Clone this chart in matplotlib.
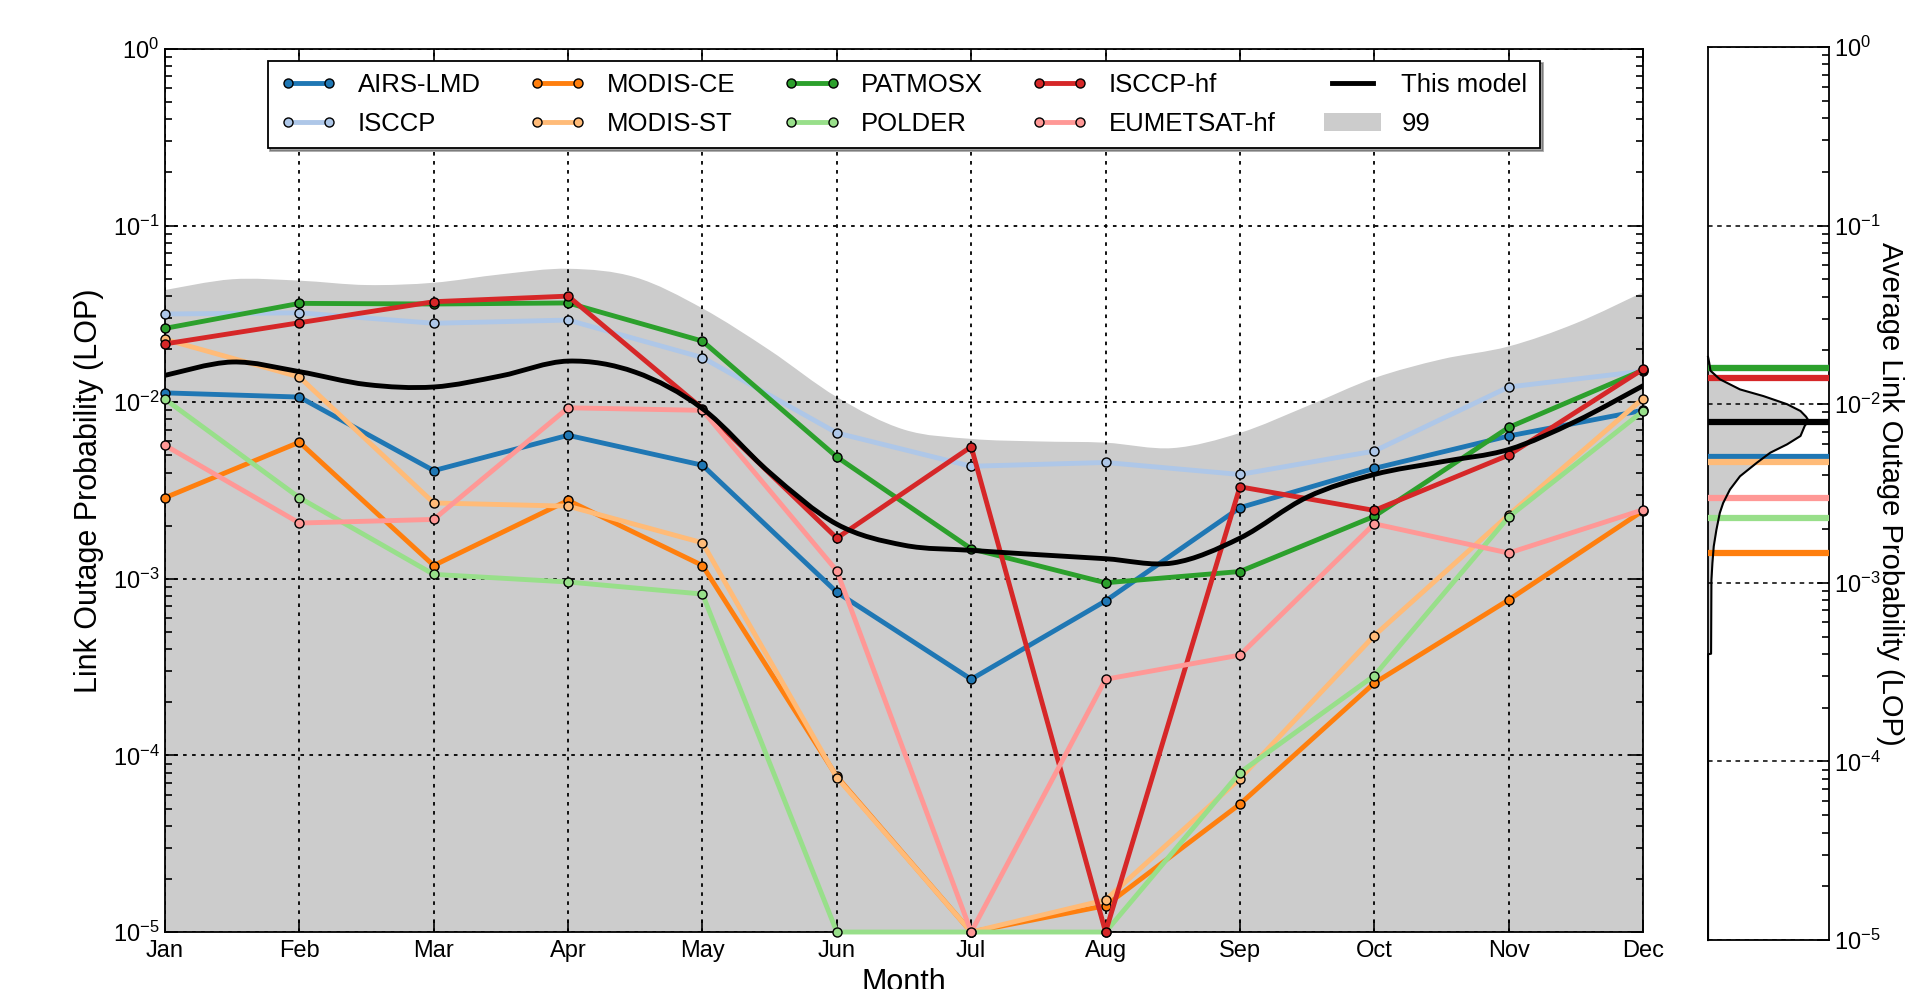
import numpy as np
import matplotlib
matplotlib.use("Agg")
import matplotlib.pyplot as plt
from matplotlib.patches import Patch, PathPatch
from matplotlib.path import Path
from matplotlib.ticker import LogLocator, NullFormatter, LogFormatterMathtext

plt.rcParams["font.family"] = ["Liberation Sans", "DejaVu Sans"]
plt.rcParams["mathtext.fontset"] = "cm"

# ---------------------------------------------------------------- data
months = ["Jan", "Feb", "Mar", "Apr", "May", "Jun",
          "Jul", "Aug", "Sep", "Oct", "Nov", "Dec"]

airs_lmd = [0.0113, 0.0107, 0.0041, 0.0065, 0.0044, 0.00084,
            0.00027, 0.00075, 0.00253, 0.00422, 0.00644, 0.0090]
isccp = [0.0316, 0.0321, 0.0280, 0.0292, 0.0179, 0.0067,
         0.00434, 0.00456, 0.0039, 0.00529, 0.0122, 0.0150]
modis_ce = [0.00288, 0.00594, 0.00119, 0.00278, 0.00119, 7.6e-5,
            1e-5, 1.41e-5, 5.3e-5, 2.57e-4, 7.6e-4, 0.00243]
modis_st = [0.0227, 0.0139, 0.00269, 0.00258, 0.0016, 7.5e-5,
            1e-5, 1.52e-5, 7.4e-5, 4.77e-4, 0.0023, 0.0105]
patmosx = [0.0262, 0.0363, 0.0360, 0.0365, 0.0222, 0.0049,
           0.00148, 0.00095, 0.0011, 0.00226, 0.0072, 0.0152]
polder = [0.0104, 0.00288, 0.00106, 0.00096, 0.00082, 1e-5,
          1e-5, 1e-5, 8.0e-5, 2.83e-4, 0.00224, 0.0089]
isccp_hf = [0.0214, 0.0282, 0.0371, 0.0399, 0.0092, 0.0017,
            0.0056, 1e-5, 0.00332, 0.00244, 0.00502, 0.0154]
eumetsat_hf = [0.0057, 0.00207, 0.00217, 0.0093, 0.0090, 0.00111,
               1e-5, 0.00027, 0.00037, 0.00205, 0.0014, 0.00246]

# model curve and 99th-percentile envelope, sampled every half month
half_month = [i / 2 for i in range(23)]
model_lop = [0.0142, 0.0169, 0.0149, 0.0126, 0.0122, 0.0141, 0.0171, 0.0148,
             0.0092, 0.0040, 0.00204, 0.00155, 0.00145, 0.00137, 0.0013,
             0.00123, 0.0017, 0.0029, 0.0039, 0.0046, 0.0054, 0.0078, 0.0124]
band_99 = [0.0432, 0.0497, 0.0488, 0.0461, 0.0475, 0.0530, 0.0570, 0.0510,
           0.0340, 0.0197, 0.0107, 0.0070, 0.0062, 0.0060, 0.0059, 0.0055,
           0.0067, 0.0095, 0.0137, 0.0175, 0.0207, 0.0280, 0.0420]

model_avg = 0.0079

# distribution of the model's average LOP (relative density vs LOP)
dist_lop = [1.84e-2, 1.70e-2, 1.54e-2, 1.38e-2, 1.21e-2, 1.11e-2, 1.0e-2,
            9.16e-3, 8.51e-3, 8.05e-3, 7.59e-3, 6.64e-3, 5.96e-3, 5.35e-3,
            4.70e-3, 3.95e-3, 3.33e-3, 2.80e-3, 2.46e-3, 1.98e-3, 1.60e-3,
            1.29e-3, 1.04e-3, 4.01e-4, 3.98e-4, 1e-5]
dist_density = [0.0, 0.01, 0.02, 0.097, 0.264, 0.458, 0.653,
                0.764, 0.81, 0.833, 0.80, 0.764, 0.653, 0.514,
                0.403, 0.264, 0.181, 0.125, 0.097, 0.069, 0.047,
                0.036, 0.028, 0.025, 0.0, 0.0]

series = [
    ("AIRS-LMD", airs_lmd, "#1f77b4"),
    ("ISCCP", isccp, "#aec7e8"),
    ("MODIS-CE", modis_ce, "#ff7f0e"),
    ("MODIS-ST", modis_st, "#ffbb78"),
    ("PATMOSX", patmosx, "#2ca02c"),
    ("POLDER", polder, "#98df8a"),
    ("ISCCP-hf", isccp_hf, "#d62728"),
    ("EUMETSAT-hf", eumetsat_hf, "#ff9896"),
]

band_color = "0.8"


def smooth_vertices(axes, xs, ys):
    """Catmull-Rom curve through (xs, ys), returned as cubic Bezier
    vertices/codes in axes coordinates (scale-aware)."""
    pts = (axes.transScale + axes.transLimits).transform(
        np.column_stack([xs, ys]))
    n = len(pts)
    verts = [pts[0]]
    codes = [Path.MOVETO]
    for i in range(n - 1):
        p0 = pts[max(i - 1, 0)]
        p1 = pts[i]
        p2 = pts[i + 1]
        p3 = pts[min(i + 2, n - 1)]
        verts += [p1 + (p2 - p0) / 6.0, p2 - (p3 - p1) / 6.0, p2]
        codes += [Path.CURVE4] * 3
    return verts, codes


# ---------------------------------------------------------------- figure
fig = plt.figure(figsize=(19.3, 9.89), dpi=100)
ax = fig.add_axes([0.0855, 0.0576, 0.7658, 0.8928])
ax2 = fig.add_axes([0.885, 0.0495, 0.0627, 0.903])

x = np.arange(len(months))

ax.set_yscale("log")
ax.set_ylim(1e-5, 1)
ax.set_xlim(0, 11)

# shaded 99th-percentile envelope
bv, bc = smooth_vertices(ax, half_month, band_99)
bv = bv + [(1.0, 0.0), (0.0, 0.0), (0.0, 0.0)]
bc = bc + [Path.LINETO, Path.LINETO, Path.CLOSEPOLY]
ax.add_patch(PathPatch(Path(bv, bc), transform=ax.transAxes,
                       facecolor=band_color, edgecolor="none", lw=0, zorder=1))

handles = []
for name, vals, col in series:
    h, = ax.plot(x, vals, "-o", color=col, lw=3.5, ms=6.5, mfc=col,
                 mec="k", mew=1.0, zorder=3, label=name, clip_on=False)
    handles.append(h)

# model curve
mv, mc = smooth_vertices(ax, half_month, model_lop)
ax.add_patch(PathPatch(Path(mv, mc), transform=ax.transAxes,
                       facecolor="none", edgecolor="k", lw=3.5, zorder=4,
                       capstyle="round", joinstyle="round"))
hm = plt.Line2D([], [], color="k", lw=3.5, label="This model")
handles.append(hm)
handles.append(Patch(facecolor=band_color, edgecolor="none", label="99"))

ax.set_ylim(1e-5, 1)
ax.set_xlim(0, 11)
ax.set_xticks(x)
ax.set_xticklabels(months, fontsize=17)
ax.yaxis.set_major_locator(LogLocator(base=10, numticks=10))
ax.yaxis.set_minor_locator(LogLocator(base=10, subs=np.arange(2, 10), numticks=20))
ax.yaxis.set_minor_formatter(NullFormatter())
ax.yaxis.set_major_formatter(LogFormatterMathtext())
ax.tick_params(axis="y", labelsize=17, pad=4)
ax.tick_params(which="both", direction="in", top=True, right=True, width=1.2)
ax.tick_params(which="major", length=9)
ax.tick_params(which="minor", length=5)
ax.tick_params(axis="x", pad=6)
ax.grid(True, which="major", color="k", linestyle=(0, (2, 3)), lw=1.3, zorder=2)
for s in ax.spines.values():
    s.set_linewidth(1.3)

ax.set_ylabel("Link Outage Probability (LOP)", fontsize=22, labelpad=6)
ax.set_xlabel("Month", fontsize=22, labelpad=4)

leg = ax.legend(handles=handles, ncol=5, loc="upper center",
                bbox_to_anchor=(0.5, 1.0), borderaxespad=0.45,
                fontsize=18.5, numpoints=2,
                handlelength=2.2, handletextpad=0.8, columnspacing=1.9,
                labelspacing=0.55, borderpad=0.5, fancybox=False,
                shadow=True, framealpha=1, edgecolor="k")
leg.get_frame().set_linewidth(1.3)
leg.set_zorder(10)

# ---------------------------------------------------------------- side panel
ax2.set_yscale("log")
ax2.set_ylim(1e-5, 1)
ax2.set_xlim(0, 1)
ax2.fill_betweenx(dist_lop, 0, dist_density, color=band_color, lw=0, zorder=1)
ax2.plot(dist_density, dist_lop, color="k", lw=1.5, zorder=4, clip_on=False)
for name, vals, col in series:
    ax2.axhline(np.mean(vals), color=col, lw=4.5, zorder=3)
ax2.axhline(model_avg, color="k", lw=4.5, zorder=3)

ax2.set_ylim(1e-5, 1)
ax2.set_xlim(0, 1)
ax2.set_xticks([])
ax2.yaxis.set_major_locator(LogLocator(base=10, numticks=10))
ax2.yaxis.set_minor_locator(LogLocator(base=10, subs=np.arange(2, 10), numticks=20))
ax2.yaxis.set_minor_formatter(NullFormatter())
ax2.yaxis.set_major_formatter(LogFormatterMathtext())
ax2.yaxis.tick_right()
ax2.tick_params(axis="y", which="both", direction="in", left=False, right=True,
                labelleft=False, labelright=True, labelsize=17, width=1.2)
ax2.tick_params(which="major", length=9)
ax2.tick_params(which="minor", length=5)
ax2.grid(True, axis="y", which="major", color="k", linestyle=(0, (3, 3)),
         lw=1.1, zorder=2)
for s in ax2.spines.values():
    s.set_linewidth(1.3)
ax2.yaxis.set_label_position("right")
ax2.set_ylabel("Average Link Outage Probability (LOP)", fontsize=21,
               rotation=-90, labelpad=17)

fig.savefig("out.png", dpi=100)
